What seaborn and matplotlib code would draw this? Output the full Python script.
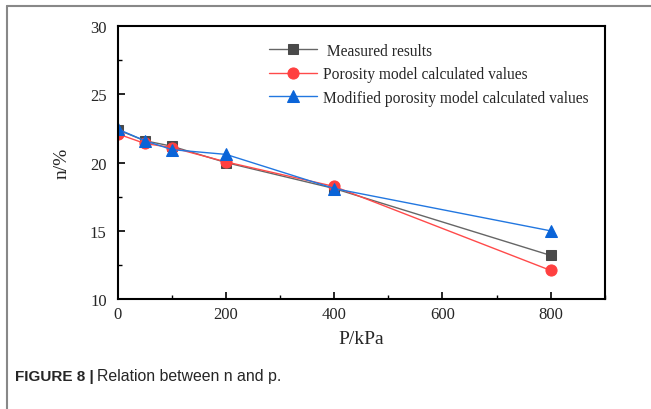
import numpy as np
import pandas as pd
import matplotlib.pyplot as plt
import seaborn as sns
from matplotlib.lines import Line2D
from matplotlib.ticker import MultipleLocator

sns.set_style("ticks")
plt.rcParams['font.family'] = ['Liberation Serif', 'DejaVu Serif']

# data
pressure = [0, 50, 100, 200, 400, 800]
measured = [22.4, 21.6, 21.2, 20.0, 18.1, 13.2]
porosity = [22.1, 21.4, 21.1, 20.05, 18.25, 12.1]
modified = [22.45, 21.6, 20.95, 20.6, 18.1, 15.0]

labels = ['Measured results', 'Porosity model calculated values',
          'Modified porosity model calculated values']

fig = plt.figure(figsize=(6.51, 4.1), dpi=100)
ax = fig.add_axes([0.181, 0.268, 0.748, 0.666])

sns.lineplot(x=pressure, y=measured, ax=ax, color='#666666', lw=1.0,
             marker='s', markersize=7, markerfacecolor='#4a4a4a',
             markeredgecolor='#4a4a4a', label=' ' + labels[0])
sns.lineplot(x=pressure, y=porosity, ax=ax, color='#ff4a4a', lw=1.0,
             marker='o', markersize=8, markerfacecolor='#ff4040',
             markeredgecolor='#ff4040', label=labels[1])
sns.lineplot(x=pressure, y=modified, ax=ax, color='#2277e0', lw=1.0,
             marker='^', markersize=8, markerfacecolor='#0a64d8',
             markeredgecolor='#0a64d8', label=labels[2])

ax.set_xlim(0, 900)
ax.set_ylim(10, 30)
ax.set_xticks([0, 200, 400, 600, 800])
ax.set_yticks([10, 15, 20, 25, 30])
ax.xaxis.set_minor_locator(MultipleLocator(100))
ax.yaxis.set_minor_locator(MultipleLocator(2.5))
ax.tick_params(which='major', direction='in', length=5, width=1.2,
               labelsize=12, color='black')
ax.tick_params(axis='y', which='major', pad=8)
ax.tick_params(axis='x', which='major', pad=5)
ax.tick_params(which='minor', direction='in', length=3, width=1.0, color='black')
for s in ax.spines.values():
    s.set_linewidth(1.5)
    s.set_color('black')

ax.set_xlabel('P/kPa', fontsize=14, labelpad=6)
ax.set_ylabel('n/%', fontsize=14, labelpad=14)

leg = ax.legend(loc='upper left', bbox_to_anchor=(0.282, 0.99), frameon=False,
                fontsize=11.2, handlelength=3.1, handletextpad=0.33,
                labelspacing=0.48)

# outer frame of the figure panel
fig.add_artist(Line2D([7 / 651, 7 / 651], [0, 1 - 7 / 410], color='#888888', lw=1.5))
fig.add_artist(Line2D([7 / 651, 1], [1 - 7 / 410, 1 - 7 / 410], color='#888888', lw=1.5))

fig.text(15 / 651, 1 - 381 / 410, 'FIGURE 8 |', fontsize=11, fontweight='bold',
         family=['Liberation Sans', 'DejaVu Sans'], ha='left', va='baseline')
fig.text(97 / 651, 1 - 381 / 410, 'Relation between n and p.', fontsize=11.4,
         family=['Liberation Sans', 'DejaVu Sans'], ha='left', va='baseline')

fig.savefig('out.png', dpi=100)
